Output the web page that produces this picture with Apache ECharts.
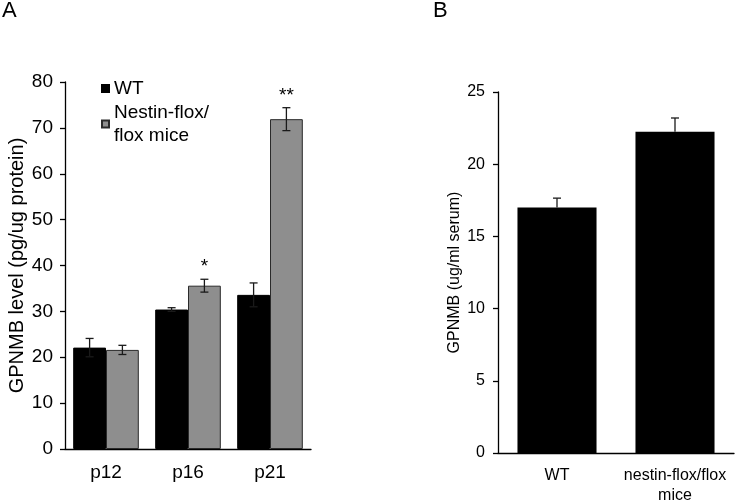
<!DOCTYPE html>
<html>
<head>
<meta charset="utf-8">
<script src="https://cdn.jsdelivr.net/npm/echarts@6/dist/echarts.min.js"></script>
<style>html,body{margin:0;padding:0;background:#fff}#c{width:735px;height:502px}</style>
</head>
<body>
<div id="c"></div>
<script>
// ---- Panel A data ----
const categoriesA = ['p12', 'p16', 'p21'];
const wtA = [22.1, 30.4, 33.6];
const wtAErr = [2.0, 0.4, 2.6];
const koA = [21.6, 35.6, 71.9];
const koAErr = [1.0, 1.4, 2.5];
const sigA = ['', '*', '**'];
const seriesNamesA = ['WT', 'Nestin-flox/\nflox mice'];
const yTicksA = { min: 0, max: 80, interval: 10 };

// ---- Panel B data ----
const categoriesB = ['WT', 'nestin-flox/flox\nmice'];
const valuesB = [17.0, 22.25];
const errB = [0.65, 0.95];
const yTicksB = { min: 0, max: 25, interval: 5 };

const FONT = '"Liberation Sans", Arial, Helvetica, sans-serif';
const GRAY = '#8e8e8e';

function errRender(offsetFrac, both, sig) {
  return function (params, api) {
    const x = api.value(0), v = api.value(1), e = api.value(2);
    const band = api.size([1, 0])[0];
    const top = api.coord([x, v + e]);
    const bot = api.coord([x, both ? v - e : v]);
    const cx = top[0] + offsetFrac * band;
    const st = { stroke: '#1a1a1a', lineWidth: 1.3 };
    const h = 4;
    const children = [
      { type: 'line', shape: { x1: cx, y1: top[1], x2: cx, y2: bot[1] }, style: st },
      { type: 'line', shape: { x1: cx - h, y1: top[1], x2: cx + h, y2: top[1] }, style: st }
    ];
    if (both) children.push({ type: 'line', shape: { x1: cx - h, y1: bot[1], x2: cx + h, y2: bot[1] }, style: st });
    if (sig && sig[params.dataIndex]) {
      children.push({ type: 'text', style: { text: sig[params.dataIndex], x: cx, y: top[1] - 12,
        align: 'center', verticalAlign: 'middle', fontSize: 19, fontFamily: FONT, fill: '#000' } });
    }
    return { type: 'group', children: children };
  };
}

const axisLine = { lineStyle: { color: '#000', width: 1.3 } };
const axisTick = { length: 5, lineStyle: { color: '#000', width: 1.3 } };

const chart = echarts.init(document.getElementById('c'));
chart.setOption({
  animation: false,
  backgroundColor: '#fff',
  title: [
    { text: 'A', left: 2, top: 0, padding: 0, textStyle: { fontSize: 22, fontWeight: 'normal', fontFamily: FONT, color: '#000' } },
    { text: 'B', left: 433, top: 0, padding: 0, textStyle: { fontSize: 22, fontWeight: 'normal', fontFamily: FONT, color: '#000' } }
  ],
  legend: [
    { data: [seriesNamesA[0]], left: 101, top: 74.5, padding: 0, selectedMode: false, icon: 'rect',
      itemWidth: 7, itemHeight: 7,
      textStyle: { fontSize: 19, fontFamily: FONT, color: '#000', lineHeight: 22, padding: [6, 0, 0, 0] } },
    { data: [seriesNamesA[1]], left: 101, top: 86.5, padding: 0, selectedMode: false, icon: 'rect',
      itemWidth: 7, itemHeight: 7,
      textStyle: { fontSize: 19, fontFamily: FONT, color: '#000', lineHeight: 23, padding: [29, 0, 0, 0] } }
  ],
  grid: [
    { left: 65, right: 424, top: 82, bottom: 53, outerBoundsMode: 'none', containLabel: false },
    { left: 498, right: 1, top: 92, bottom: 49, outerBoundsMode: 'none', containLabel: false }
  ],
  xAxis: [
    { type: 'category', gridIndex: 0, data: categoriesA, axisLine: axisLine, axisTick: axisTick,
      axisLabel: { interval: 0, fontSize: 19, fontFamily: FONT, color: '#000', margin: 13, lineHeight: 22 } },
    { type: 'category', gridIndex: 1, data: categoriesB, axisLine: axisLine, axisTick: axisTick,
      axisLabel: { interval: 0, hideOverlap: false, fontSize: 16, fontFamily: FONT, color: '#000', margin: 13, lineHeight: 20 } }
  ],
  yAxis: [
    { type: 'value', gridIndex: 0, min: yTicksA.min, max: yTicksA.max, interval: yTicksA.interval,
      name: 'GPNMB level (pg/ug protein)', nameLocation: 'middle', nameGap: 33,
      nameTextStyle: { fontSize: 20, fontFamily: FONT, color: '#000' },
      axisLine: Object.assign({ show: true }, axisLine), axisTick: Object.assign({ show: true }, axisTick), splitLine: { show: false },
      axisLabel: { fontSize: 19, fontFamily: FONT, color: '#000', margin: 12 } },
    { type: 'value', gridIndex: 1, min: yTicksB.min, max: yTicksB.max, interval: yTicksB.interval,
      name: 'GPNMB (ug/ml serum)', nameLocation: 'middle', nameGap: 35,
      nameTextStyle: { fontSize: 16, fontFamily: FONT, color: '#000' },
      axisLine: Object.assign({ show: true }, axisLine), axisTick: Object.assign({ show: true }, axisTick), splitLine: { show: false },
      axisLabel: { fontSize: 16, fontFamily: FONT, color: '#000', margin: 13 } }
  ],
  series: [
    { type: 'bar', name: seriesNamesA[0], xAxisIndex: 0, yAxisIndex: 0, data: wtA,
      barGap: 0, barCategoryGap: '20%', itemStyle: { color: '#000', borderColor: '#000', borderWidth: 1 } },
    { type: 'bar', name: seriesNamesA[1], xAxisIndex: 0, yAxisIndex: 0, data: koA,
      barGap: 0, barCategoryGap: '20%', itemStyle: { color: GRAY, borderColor: '#2a2a2a', borderWidth: 1 } },
    { type: 'custom', xAxisIndex: 0, yAxisIndex: 0, z: 5, clip: false,
      renderItem: errRender(-0.2, true, null), encode: { x: 0, y: 1 },
      data: wtA.map((v, i) => [i, v, wtAErr[i]]) },
    { type: 'custom', xAxisIndex: 0, yAxisIndex: 0, z: 5, clip: false,
      renderItem: errRender(0.2, true, sigA), encode: { x: 0, y: 1 },
      data: koA.map((v, i) => [i, v, koAErr[i]]) },
    { type: 'bar', xAxisIndex: 1, yAxisIndex: 1, data: valuesB, barCategoryGap: '33%',
      itemStyle: { color: '#000' } },
    { type: 'custom', xAxisIndex: 1, yAxisIndex: 1, z: 5, clip: false,
      renderItem: errRender(0, false, null), encode: { x: 0, y: 1 },
      data: valuesB.map((v, i) => [i, v, errB[i]]) }
  ]
});
</script>
</body>
</html>
